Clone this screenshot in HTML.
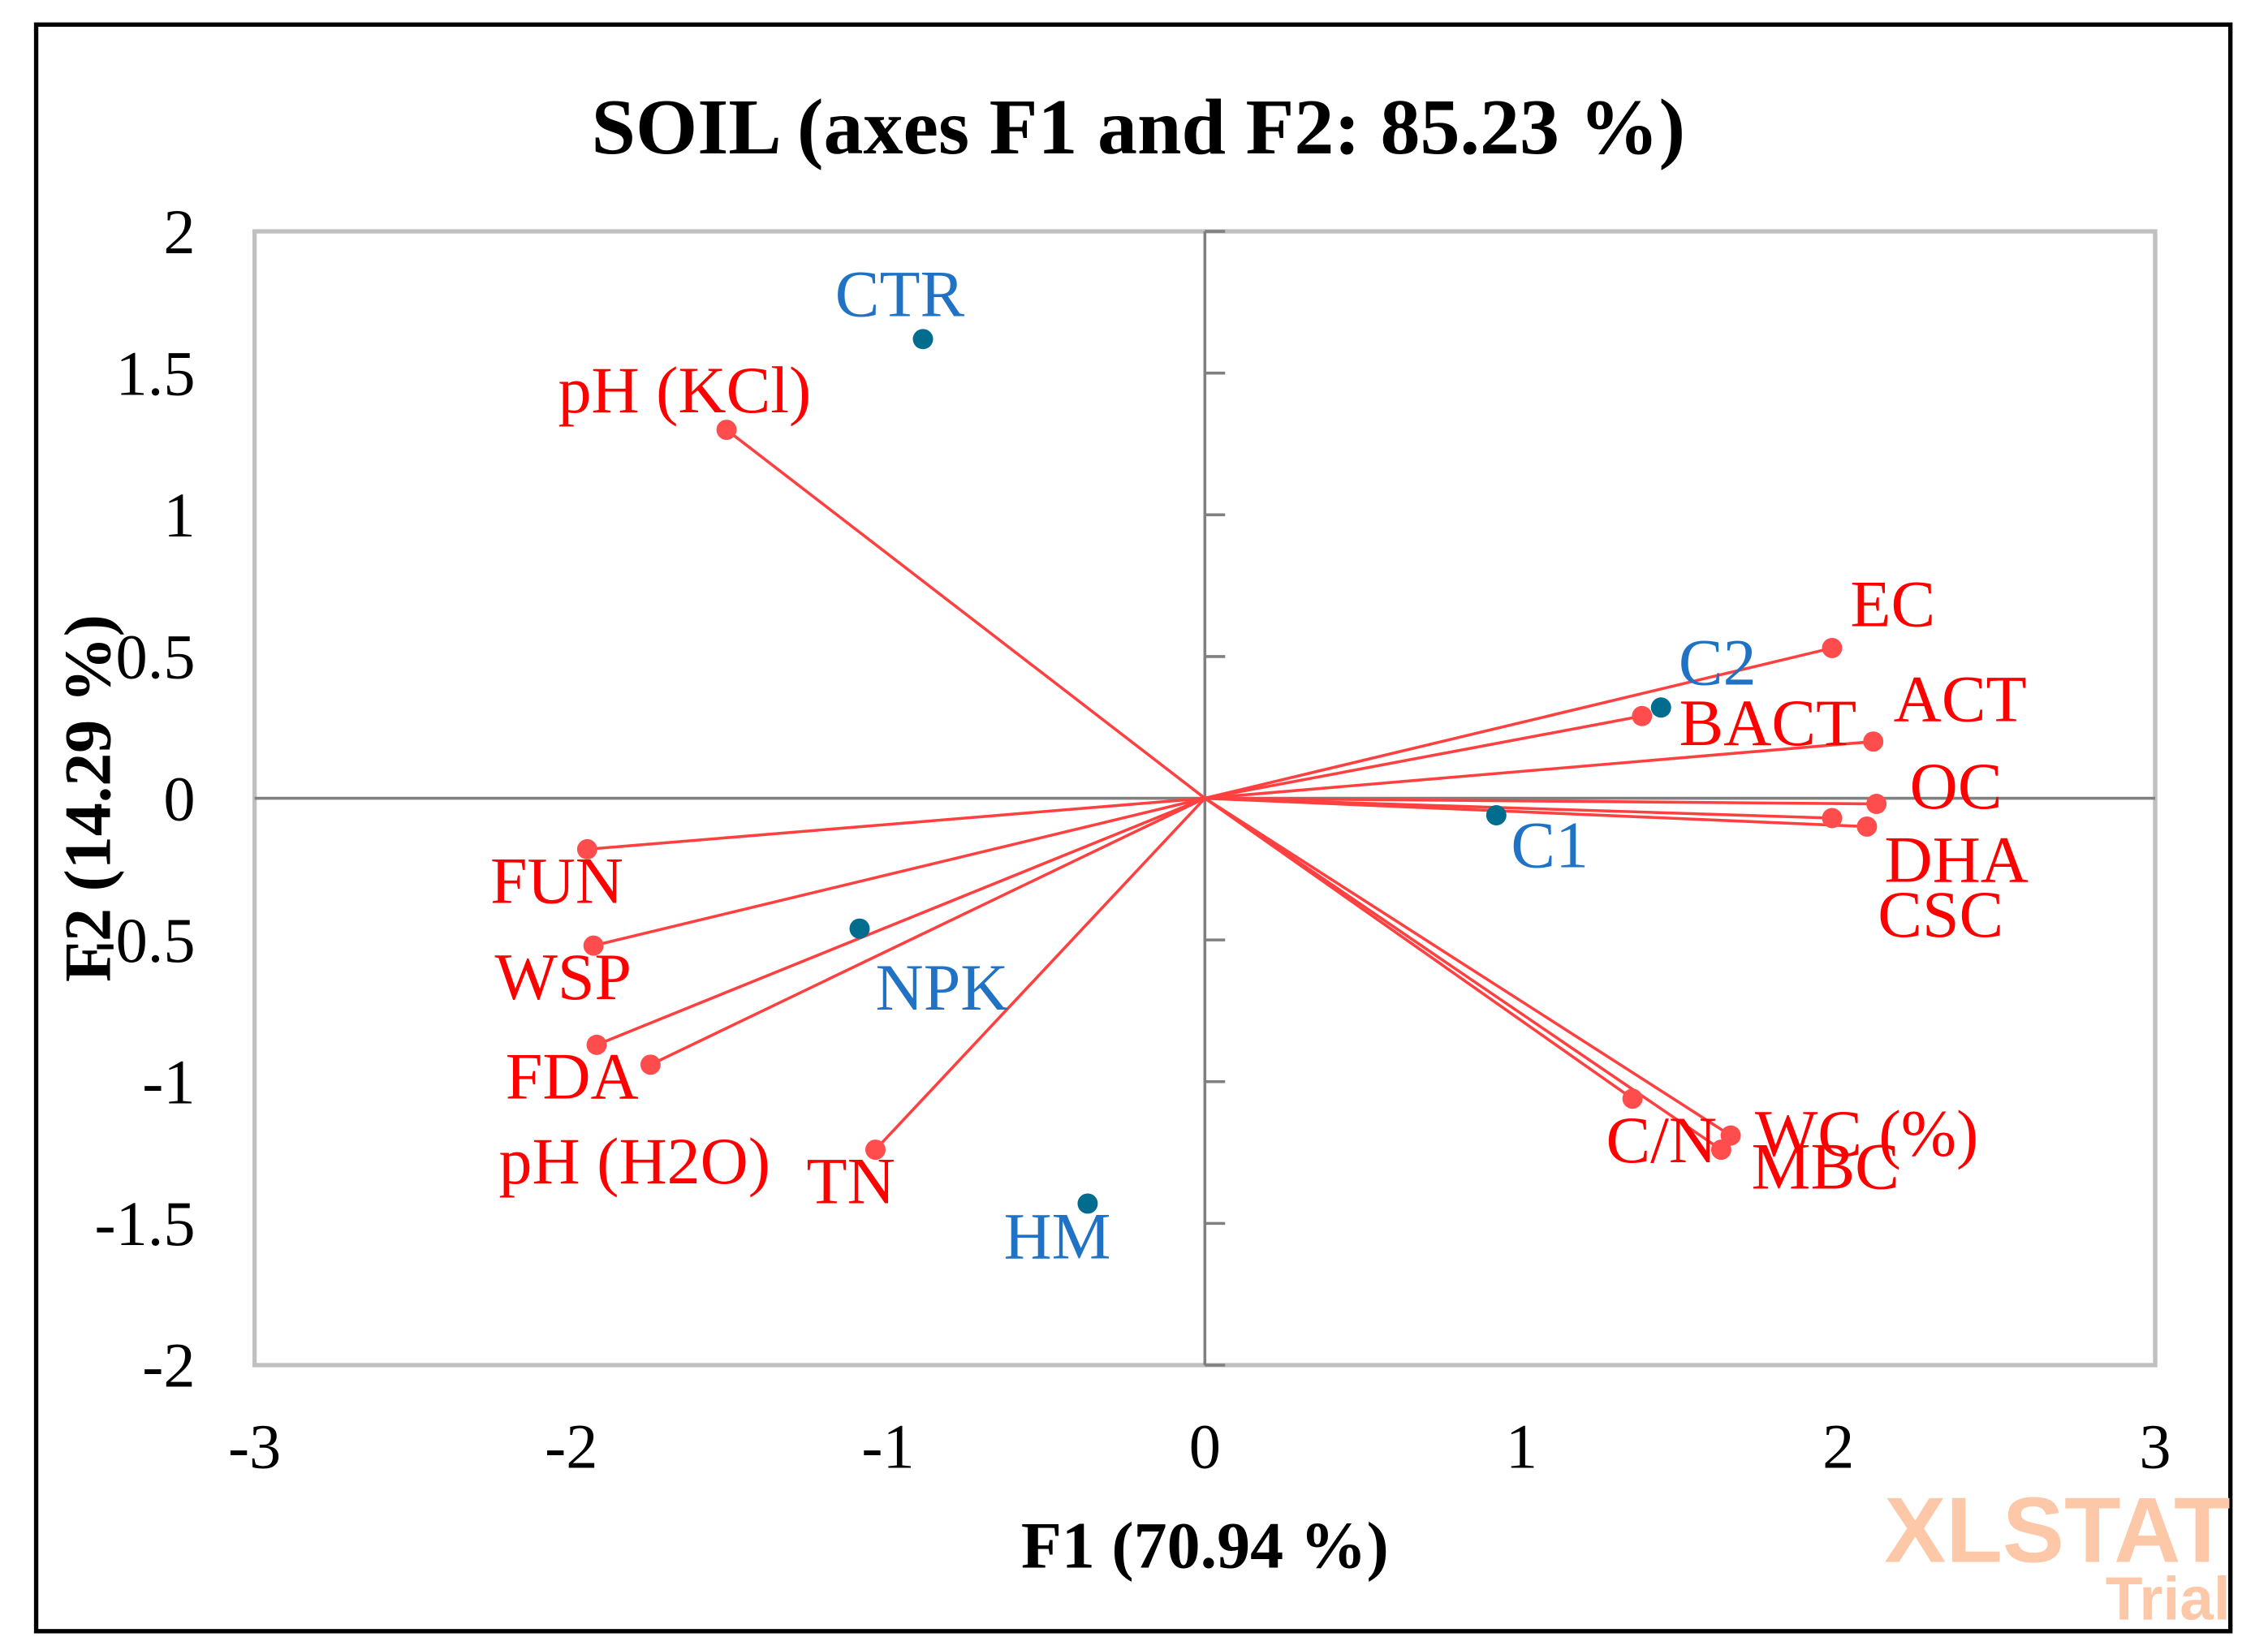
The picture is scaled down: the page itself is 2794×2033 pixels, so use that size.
<!DOCTYPE html>
<html><head><meta charset="utf-8"><style>
html,body{margin:0;padding:0;background:#fff;}
svg{display:block;}
text{font-family:"Liberation Serif",serif;}
</style></head><body>
<svg id="chart" width="2794" height="2033" viewBox="0 0 1568 1141" preserveAspectRatio="none" xmlns="http://www.w3.org/2000/svg">
<rect x="25" y="17" width="1517" height="1111" fill="#fff" stroke="#000" stroke-width="3"/>
<text x="787" y="106" font-size="55" font-weight="bold" text-anchor="middle">SOIL (axes F1 and F2: 85.23 %)</text>
<g id="axes"></g>
<g id="marks"></g>
<text x="833" y="1084" font-size="46" font-weight="bold" text-anchor="middle">F1 (70.94 %)</text>
<text transform="translate(76,552) rotate(-90)" font-size="46" font-weight="bold" text-anchor="middle">F2 (14.29 %)</text>
<text x="1542" y="1080" font-size="64" font-weight="bold" fill="#fdc8a8" text-anchor="end" style="font-family:'Liberation Sans',sans-serif">XLSTAT</text>
<text x="1542" y="1120" font-size="42" font-weight="bold" fill="#fdc8a8" text-anchor="end" style="font-family:'Liberation Sans',sans-serif">Trial</text>
</svg>
<script>
const varNames=["pH (KCl)","EC","BACT","ACT","OC","DHA","CSC","C/N","WC (%)","MBC","TN","pH (H2O)","FDA","WSP","FUN"];
const varF1=[-1.51,1.98,1.38,2.11,2.12,1.98,2.09,1.35,1.66,1.63,-1.04,-1.75,-1.92,-1.93,-1.95];
const varF2=[1.30,0.53,0.29,0.20,-0.02,-0.07,-0.10,-1.06,-1.19,-1.24,-1.24,-0.94,-0.87,-0.52,-0.18];
const obsNames=["CTR","C2","C1","NPK","HM"];
const obsF1=[-0.89,1.44,0.92,-1.09,-0.37];
const obsF2=[1.62,0.32,-0.06,-0.46,-1.43];
const xTicks=[-3,-2,-1,0,1,2,3];
const yTicks=[2,1.5,1,0.5,0,-0.5,-1,-1.5,-2];
// label offsets (styling, pixels in viewBox units)
const varLblDx=[-29,42,87,60,55,86,51,20,94,72,-17,-11,-17,-21,-21];
const varLblDy=[-28,-31,4,-30,-13,28,60,28,-2,11,21,66,21,21,21];
const obsLblDx=[-16,39,37,57,-21];
const obsLblDy=[-32,-32,20,40,22];

const X0=176,X1=1490,Y0=160,Y1=944;
const sx=v=>X0+(v+3)/6*(X1-X0);
const sy=v=>Y1-(v+2)/4*(Y1-Y0);
const NS="http://www.w3.org/2000/svg";
function mk(tag,attrs,parent,txt){const e=document.createElementNS(NS,tag);for(const k in attrs)e.setAttribute(k,attrs[k]);if(txt!==undefined)e.textContent=txt;parent.appendChild(e);return e;}
const axes=document.getElementById('axes'),marks=document.getElementById('marks');

let fr=mk('rect',{x:X0,y:Y0,width:X1-X0,height:Y1-Y0,fill:'none',stroke:'#c0c0c0','stroke-width':3},axes);


let hz=mk('line',{x1:X0,x2:X1,y1:sy(0),y2:sy(0),stroke:'#808080','stroke-width':2},axes);


let vz=mk('line',{x1:sx(0),x2:sx(0),y1:Y0,y2:Y1,stroke:'#808080','stroke-width':2},axes);


yTicks.forEach(v=>{
  let t=mk('line',{x1:sx(0),x2:sx(0)+14,y1:sy(v),y2:sy(v),stroke:'#808080','stroke-width':2},axes);
  
  
  let l=mk('text',{x:135,y:sy(v)+15,'font-size':44,'text-anchor':'end'},axes,String(v));
  
  
});
xTicks.forEach(v=>{
  let l=mk('text',{x:sx(v),y:1015,'font-size':44,'text-anchor':'middle'},axes,String(v));
  
  
});
varNames.forEach((n,i)=>{
  let ln=mk('line',{x1:sx(0),y1:sy(0),x2:sx(varF1[i]),y2:sy(varF2[i]),stroke:'#ff4040','stroke-width':2},marks);
  
  
});
varNames.forEach((n,i)=>{
  let c=mk('circle',{cx:sx(varF1[i]),cy:sy(varF2[i]),r:7,fill:'#ff4d4d'},marks);
  
  
  let l=mk('text',{x:sx(varF1[i])+varLblDx[i],y:sy(varF2[i])+varLblDy[i]+16,'font-size':46,'text-anchor':'middle',fill:'#ff0000'},marks,n);
  
  
});
obsNames.forEach((n,i)=>{
  let c=mk('circle',{cx:sx(obsF1[i]),cy:sy(obsF2[i]),r:7,fill:'#006c8e'},marks);
  
  
  let l=mk('text',{x:sx(obsF1[i])+obsLblDx[i],y:sy(obsF2[i])+obsLblDy[i]+16,'font-size':46,'text-anchor':'middle',fill:'#1f72c4'},marks,n);
  
  
});
</script>
</body></html>
